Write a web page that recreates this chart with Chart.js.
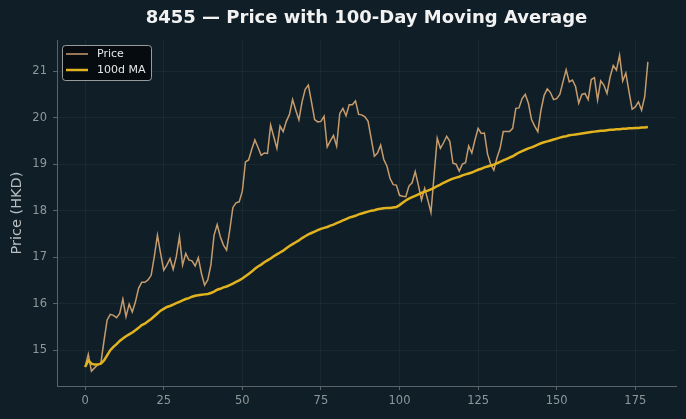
<!DOCTYPE html>
<html>
<head>
<meta charset="utf-8">
<title>8455 Price with 100-Day Moving Average</title>
<script src="https://cdn.jsdelivr.net/npm/chart.js@4.4.0/dist/chart.umd.min.js"></script>
<style>
    html, body { margin: 0; padding: 0; background: #101f27; }
    #wrap { width: 686px; height: 419px; }
</style>
</head>
<body>
<div id="wrap"><canvas id="chart" width="686" height="419"></canvas></div>
<script>
// daily close
const price = [
    14.64, 14.91, 14.55, 14.62, 14.69, 14.72, 15.20, 15.65, 15.77, 15.75,
    15.70, 15.79, 16.10, 15.72, 15.99, 15.82, 16.04, 16.33, 16.46, 16.46,
    16.51, 16.61, 17.01, 17.47, 17.08, 16.72, 16.83, 16.97, 16.74, 17.01,
    17.44, 16.83, 17.08, 16.94, 16.92, 16.81, 16.99, 16.65, 16.40, 16.51,
    16.83, 17.47, 17.70, 17.44, 17.26, 17.15, 17.58, 18.07, 18.17, 18.19,
    18.42, 19.05, 19.09, 19.32, 19.52, 19.36, 19.19, 19.24, 19.23, 19.84,
    19.59, 19.34, 19.82, 19.70, 19.92, 20.07, 20.39, 20.16, 19.95, 20.34,
    20.61, 20.70, 20.34, 19.96, 19.91, 19.92, 20.03, 19.37, 19.50, 19.62,
    19.39, 20.09, 20.20, 20.04, 20.28, 20.28, 20.36, 20.07, 20.06, 20.02,
    19.92, 19.55, 19.17, 19.24, 19.41, 19.10, 18.96, 18.69, 18.56, 18.55,
    18.33, 18.31, 18.30, 18.53, 18.60, 18.84, 18.55, 18.23, 18.48, 18.23,
    17.96, 18.76, 19.56, 19.34, 19.46, 19.60, 19.49, 19.02, 19.00, 18.85,
    19.00, 19.03, 19.39, 19.24, 19.52, 19.77, 19.66, 19.67, 19.22, 19.00,
    18.87, 19.14, 19.34, 19.70, 19.70, 19.70, 19.77, 20.20, 20.21, 20.41,
    20.50, 20.31, 19.96, 19.82, 19.70, 20.16, 20.48, 20.62, 20.54, 20.39,
    20.41, 20.50, 20.77, 21.03, 20.77, 20.81, 20.67, 20.31, 20.50, 20.52,
    20.39, 20.82, 20.86, 20.38, 20.79, 20.70, 20.52, 20.88, 21.12, 21.02,
    21.34, 20.79, 20.96, 20.56, 20.18, 20.23, 20.34, 20.16, 20.45, 21.20
];

// 100-day moving average
const ma100 = [
    14.64, 14.78, 14.71, 14.69, 14.69, 14.71, 14.78, 14.89, 15.00, 15.07,
    15.13, 15.20, 15.25, 15.30, 15.34, 15.38, 15.43, 15.48, 15.54, 15.57,
    15.62, 15.67, 15.73, 15.79, 15.85, 15.89, 15.93, 15.95, 15.98, 16.01,
    16.04, 16.07, 16.10, 16.12, 16.15, 16.17, 16.18, 16.19, 16.20, 16.21,
    16.23, 16.26, 16.30, 16.32, 16.35, 16.37, 16.40, 16.43, 16.47, 16.50,
    16.54, 16.59, 16.64, 16.69, 16.75, 16.80, 16.84, 16.89, 16.93, 16.97,
    17.02, 17.06, 17.10, 17.14, 17.19, 17.24, 17.28, 17.32, 17.36, 17.41,
    17.45, 17.49, 17.52, 17.55, 17.58, 17.61, 17.63, 17.65, 17.68, 17.70,
    17.73, 17.76, 17.79, 17.82, 17.85, 17.87, 17.89, 17.92, 17.94, 17.96,
    17.98, 18.00, 18.01, 18.03, 18.04, 18.05, 18.06, 18.06, 18.07, 18.08,
    18.12, 18.17, 18.22, 18.26, 18.29, 18.32, 18.35, 18.38, 18.41, 18.43,
    18.46, 18.49, 18.53, 18.56, 18.60, 18.63, 18.66, 18.69, 18.71, 18.73,
    18.76, 18.78, 18.80, 18.82, 18.85, 18.88, 18.90, 18.93, 18.95, 18.97,
    18.99, 19.02, 19.05, 19.08, 19.11, 19.14, 19.17, 19.21, 19.25, 19.28,
    19.31, 19.34, 19.36, 19.39, 19.42, 19.45, 19.47, 19.49, 19.51, 19.53,
    19.55, 19.57, 19.59, 19.60, 19.62, 19.63, 19.64, 19.65, 19.66, 19.67,
    19.68, 19.69, 19.70, 19.71, 19.72, 19.72, 19.73, 19.74, 19.74, 19.75,
    19.75, 19.76, 19.76, 19.77, 19.77, 19.78, 19.78, 19.79, 19.79, 19.80
];

const xTicks = [0, 25, 50, 75, 100, 125, 150, 175];
const yTicks = [15, 16, 17, 18, 19, 20, 21];

const days = price.map((_, i) => i);

const bgColor = '#101f27';
const priceColor = '#c69c6d';
const maColor = '#e2b31f';
const tickColor = '#8f979b';
const gridColor = 'rgba(255, 255, 255, 0.045)';
const spineColor = '#5b6368';

// 背景 + 标题 + 图例 + y 轴标签
const decor = {
    id: 'decor',
    beforeDraw(chart) {
        const ctx = chart.ctx;
        ctx.save();
        ctx.fillStyle = bgColor;
        ctx.fillRect(0, 0, chart.width, chart.height);
        ctx.restore();
    },
    afterDraw(chart) {
        const ctx = chart.ctx;
        const area = chart.chartArea;
        ctx.save();

        // title
        ctx.fillStyle = '#f2f2f2';
        ctx.font = 'bold 18px "DejaVu Sans"';
        ctx.textAlign = 'center';
        ctx.textBaseline = 'middle';
        ctx.fillText('8455 \u2014 Price with 100-Day Moving Average', (area.left + area.right) / 2, 18);

        // y label
        ctx.translate(17, (area.top + area.bottom) / 2);
        ctx.rotate(-Math.PI / 2);
        ctx.fillStyle = '#b9bec1';
        ctx.font = '14.5px "DejaVu Sans"';
        ctx.fillText('Price (HKD)', 0, 0);
        ctx.setTransform(1, 0, 0, 1, 0, 0);

        // legend
        const lx = 62, ly = 45, lw = 89, lh = 35;
        ctx.beginPath();
        ctx.roundRect(lx + 0.5, ly + 0.5, lw, lh, 3);
        ctx.fillStyle = 'rgba(4, 8, 10, 0.85)';
        ctx.fill();
        ctx.strokeStyle = 'rgba(200, 200, 200, 0.75)';
        ctx.lineWidth = 1;
        ctx.stroke();

        const entries = [
            { text: 'Price', color: priceColor, width: 1.5, y: 54 },
            { text: '100d MA', color: maColor, width: 2.5, y: 70 }
        ];
        ctx.font = '11px "DejaVu Sans"';
        ctx.textAlign = 'left';
        entries.forEach(e => {
            ctx.beginPath();
            ctx.moveTo(66, e.y);
            ctx.lineTo(88, e.y);
            ctx.strokeStyle = e.color;
            ctx.lineWidth = e.width;
            ctx.stroke();
            ctx.fillStyle = '#e6e6e6';
            ctx.fillText(e.text, 97, e.y + 0.5);
        });

        ctx.restore();
    }
};

new Chart(document.getElementById('chart'), {
    type: 'line',
    data: {
        labels: days,
        datasets: [
            {
                label: 'Price',
                data: days.map((d, i) => ({ x: d, y: price[i] })),
                borderColor: priceColor,
                borderWidth: 1.5,
                pointRadius: 0,
                tension: 0,
                order: 2
            },
            {
                label: '100d MA',
                data: days.map((d, i) => ({ x: d, y: ma100[i] })),
                borderColor: maColor,
                borderWidth: 2.5,
                pointRadius: 0,
                tension: 0,
                order: 1
            }
        ]
    },
    options: {
        responsive: false,
        animation: false,
        layout: { padding: { left: 0, right: 10, top: 40, bottom: 0 } },
        plugins: {
            legend: { display: false },
            title: { display: false },
            tooltip: { enabled: false }
        },
        scales: {
            x: {
                type: 'linear',
                min: -8.95,
                max: 187.95,
                afterBuildTicks: (scale) => { scale.ticks = xTicks.map(v => ({ value: v })); },
                afterFit: (scale) => { scale.height = 33; },
                grid: { color: gridColor, tickColor: spineColor, tickLength: 4 },
                border: { display: true, color: spineColor, width: 1 },
                ticks: {
                    color: tickColor,
                    font: { family: 'DejaVu Sans', size: 11.5 },
                    padding: 4,
                    maxRotation: 0
                }
            },
            y: {
                min: 14.23,
                max: 21.67,
                afterBuildTicks: (scale) => { scale.ticks = yTicks.map(v => ({ value: v })); },
                afterFit: (scale) => { scale.width = 57; },
                grid: { color: gridColor, tickColor: spineColor, tickLength: 4 },
                border: { display: true, color: spineColor, width: 1 },
                ticks: {
                    color: tickColor,
                    font: { family: 'DejaVu Sans', size: 11.5 },
                    padding: 6
                }
            }
        }
    },
    plugins: [decor]
});
</script>
</body>
</html>
